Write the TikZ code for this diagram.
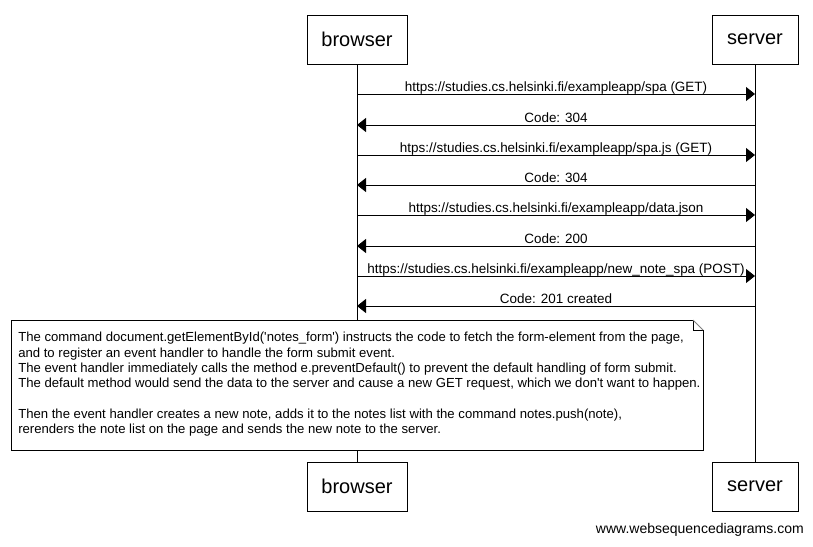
\documentclass[tikz,border=0pt]{standalone}
\usepackage{fontspec}
\setmainfont{Liberation Sans}
\usetikzlibrary{arrows.meta, positioning}

\tikzset{
    actor/.style={draw, line width=0.75pt, minimum height=36.75pt, inner sep=0pt, font=\fontsize{15}{18}\selectfont},
    lifeline/.style={line width=0.75pt},
    msg/.style={line width=0.75pt, -{Triangle[length=6.75pt, width=10.5pt]}},
    msglabel/.style={anchor=base, yshift=2.25pt, inner sep=0pt, font=\fontsize{10.1}{11}\selectfont},
    notetext/.style={anchor=north west, align=left, inner sep=0pt, font=\fontsize{9.85}{11.5}\selectfont}
}

\begin{document}
\begin{tikzpicture}[x=0.75pt, y=-0.75pt]

    \useasboundingbox (0,0) rectangle (813,546);

    % participants
    \node[actor, minimum width=75pt] (browsertop) at (357,39.5) {browser};
    \node[actor, minimum width=64.5pt] (servertop) at (755,39.5) {server};
    \node[actor, minimum width=75pt] (browserbot) at (357,486.5) {browser};
    \node[actor, minimum width=64.5pt] (serverbot) at (755,486.5) {server};

    \draw[lifeline] (browsertop) -- (browserbot);
    \draw[lifeline] (servertop) -- (serverbot);

    % message levels on the lifelines
    \foreach \i/\y in {1/94, 2/125, 3/155, 4/185, 5/215, 6/246, 7/276, 8/306}{
        \coordinate (b\i) at (browsertop |- 0,\y);
        \coordinate (s\i) at (servertop |- 0,\y);
    }

    \draw[msg] (b1) -- node[msglabel]{https://studies.cs.helsinki.fi/exampleapp/spa (GET)} (s1);
    \draw[msg] (s2) -- node[msglabel]{Code: 304} (b2);
    \draw[msg] (b3) -- node[msglabel]{htps://studies.cs.helsinki.fi/exampleapp/spa.js (GET)} (s3);
    \draw[msg] (s4) -- node[msglabel]{Code: 304} (b4);
    \draw[msg] (b5) -- node[msglabel]{https://studies.cs.helsinki.fi/exampleapp/data.json} (s5);
    \draw[msg] (s6) -- node[msglabel]{Code: 200} (b6);
    \draw[msg] (b7) -- node[msglabel]{https://studies.cs.helsinki.fi/exampleapp/new\_note\_spa (POST)} (s7);
    \draw[msg] (s8) -- node[msglabel]{Code: 201 created} (b8);

    % note with folded corner
    \fill[white] (11,320) -- (693,320) -- (703,330) -- (703,450) -- (11,450) -- cycle;
    \draw[line width=0.75pt] (703,330) -- (703,450) -- (11,450) -- (11,320) -- (693,320) -- (693,330) -- (703,330);
    \draw[line width=0.75pt, gray] (693,320) -- (703,330);
    \node[notetext] (note) at (18,332) {The command document.getElementById(\textquotesingle notes\_form\textquotesingle) instructs the code to fetch the form-element from the page,\\
        and to register an event handler to handle the form submit event.\\
        The event handler immediately calls the method e.preventDefault() to prevent the default handling of form submit.\\
        The default method would send the data to the server and cause a new GET request, which we don\textquotesingle t want to happen.\\[11.5pt]
        Then the event handler creates a new note, adds it to the notes list with the command notes.push(note),\\
        rerenders the note list on the page and sends the new note to the server.};

    \node[anchor=east, inner sep=0pt, font=\fontsize{10.5}{12}\selectfont] (footer) at (804,530) {www.websequencediagrams.com};

\end{tikzpicture}
\end{document}
